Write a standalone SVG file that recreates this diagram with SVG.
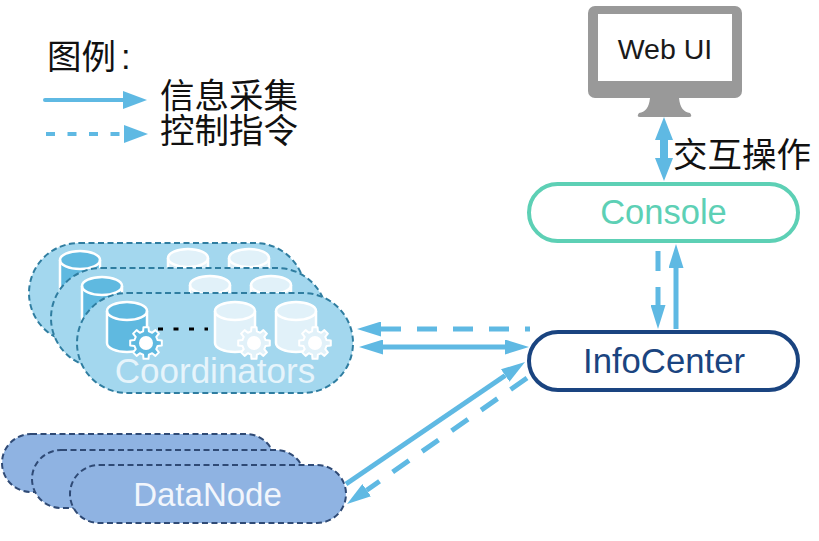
<svg xmlns="http://www.w3.org/2000/svg" width="819" height="541" viewBox="0 0 819 541">
<style>
.cjk{font-family:"Liberation Sans","Noto Sans CJK SC",sans-serif;font-size:34.500px;fill:#111}
.lat{font-family:"Liberation Sans",Arial,sans-serif;text-anchor:middle}
.pill{fill:#a3d7ee;stroke:#2f7da0;stroke-width:2;stroke-dasharray:6 3.5}
.dn{fill:#8fb3e2;stroke:#2f4a75;stroke-width:2;stroke-dasharray:6 3.5}
.line{fill:none;stroke:#5fb9e3;stroke-width:5}
.dash{stroke-dasharray:20 16}
.hd{marker-end:url(#head)}
.cyl-b{fill:#5fb9e0;stroke:#fff;stroke-width:2.5}
.cyl-p{fill:#e1f1f9;stroke:#fff;stroke-width:2.5}
.term{fill:#fff;stroke-width:4}
.gb{fill:#5fb9e0;stroke:#fff;stroke-width:2;stroke-linejoin:round}
.gp{fill:#e1f1f9;stroke:#fff;stroke-width:2;stroke-linejoin:round}
</style>
<defs>
<marker id="head" markerUnits="userSpaceOnUse" markerWidth="24" markerHeight="15" refX="0" refY="7.5" orient="auto-start-reverse"><path d="M0 0L24 7.5L0 15z" fill="#5fb9e3"/></marker>
<marker id="headBig" markerUnits="userSpaceOnUse" markerWidth="24" markerHeight="18" refX="0" refY="9" orient="auto-start-reverse"><path d="M0 0L24 9L0 18z" fill="#5fb9e3"/></marker>
<g id="cyl"><path d="M0 9a20 9 0 0 1 40 0v32a20 9 0 0 1-40 0z"/><path d="M0 9a20 9 0 0 0 40 0" fill="none"/></g>
<g id="gear"><path d="M11.6-2.900L15.800-2.500L15.800 2.500L11.600 2.900L10.250 6.150L12.900 9.400L9.400 12.900L6.150 10.250L2.900 11.600L2.500 15.800L-2.500 15.800L-2.900 11.600L-6.150 10.250L-9.400 12.900L-12.900 9.400L-10.250 6.150L-11.600 2.900L-15.800 2.500L-15.800-2.500L-11.600-2.900L-10.250-6.150L-12.900-9.400L-9.400-12.900L-6.150-10.250L-2.900-11.600L-2.500-15.800L2.500-15.800L2.900-11.600L6.150-10.250L9.400-12.900L12.900-9.400L10.250-6.150z"/><circle r="7" fill="#fff" stroke="none"/></g>
</defs>
<rect width="819" height="541" fill="#fff"/>

<g id="legend">
<text class="cjk" x="47" y="69">图例<tspan dx="5">:</tspan></text>
<text class="cjk" x="160" y="108">信息采集</text>
<text class="cjk" x="160" y="143">控制指令</text>
<path d="M45 100H123" fill="none" stroke="#5fb9e3" stroke-width="4" stroke-linecap="round" marker-end="url(#headBig)"/>
<path d="M46 134H124" fill="none" stroke="#5fb9e3" stroke-width="4" stroke-dasharray="9 12.5" marker-end="url(#headBig)"/>
</g>

<g id="webui">
<rect x="588" y="6" width="154" height="92" rx="7" fill="#999"/>
<path d="M650 98H679C680 108 684 112 690 113Q693 117 689 117H640Q636 117 639 113C645 112 649 108 650 98z" fill="#999"/>
<rect x="598" y="14" width="134" height="67" fill="#fff"/>
<text class="lat" x="665" y="59" font-size="28.500" fill="#1a1a1a">Web UI</text>
</g>

<g id="console">
<rect class="term" x="529" y="184" width="269" height="57" rx="28.5" stroke="#5dd0b5"/>
<text class="lat" x="663.5" y="224" font-size="34.500" fill="#5dd0b5">Console</text>
</g>

<g id="infocenter">
<rect class="term" x="529" y="332" width="269" height="58" rx="29" stroke="#1a4480"/>
<text class="lat" x="664" y="373" font-size="34.700" fill="#1a4480">InfoCenter</text>
</g>

<g id="coordinators">
<rect class="pill" x="29" y="243" width="276" height="100" rx="50"/>
<use href="#cyl" class="cyl-b" x="60" y="251"/>
<use href="#cyl" class="cyl-p" x="168" y="249"/>
<use href="#cyl" class="cyl-p" x="229" y="249"/>
<rect class="pill" x="51" y="268" width="276" height="100" rx="50"/>
<use href="#cyl" class="cyl-b" x="82" y="277"/>
<use href="#cyl" class="cyl-p" x="190" y="276"/>
<use href="#cyl" class="cyl-p" x="251" y="276"/>
<rect class="pill" x="77" y="293" width="276" height="100" rx="50"/>
<use href="#cyl" class="cyl-b" x="107" y="302"/>
<use href="#gear" class="gb" x="146" y="343"/>
<path d="M158 329H208" fill="none" stroke="#000" stroke-width="3" stroke-dasharray="5 10.5"/>
<use href="#cyl" class="cyl-p" x="215" y="302"/>
<use href="#gear" class="gp" x="254" y="343"/>
<use href="#cyl" class="cyl-p" x="276" y="302"/>
<use href="#gear" class="gp" x="315" y="343"/>
<text class="lat" x="215" y="383" font-size="35" fill="#e6f4fb">Coordinators</text>
</g>

<g id="datanode">
<rect class="dn" x="2" y="434" width="273" height="58" rx="29"/>
<rect class="dn" x="32" y="450" width="273" height="58" rx="29"/>
<rect class="dn" x="70" y="465" width="276" height="58" rx="29"/>
<text class="lat" x="207.5" y="506" font-size="33" fill="#f2f6fc">DataNode</text>
</g>

<g id="labels">
<text class="cjk" x="673" y="167">交互操作</text>
</g>

<g id="connectors">
<path d="M664 117L673 140H668V158H673L664 181L655 158H660V140H655z" fill="#5fb9e3"/>
<path class="line dash hd" d="M658 251V305"/>
<path class="line hd" d="M676 329V268"/>
<path class="line dash" d="M381 329H530" marker-start="url(#head)"/>
<path class="line hd" d="M383 347H505" marker-start="url(#head)"/>
<path class="line hd" d="M346 484L505.200 375.500"/>
<path class="line dash hd" d="M527 378L366.700 490.200"/>
</g>
</svg>
